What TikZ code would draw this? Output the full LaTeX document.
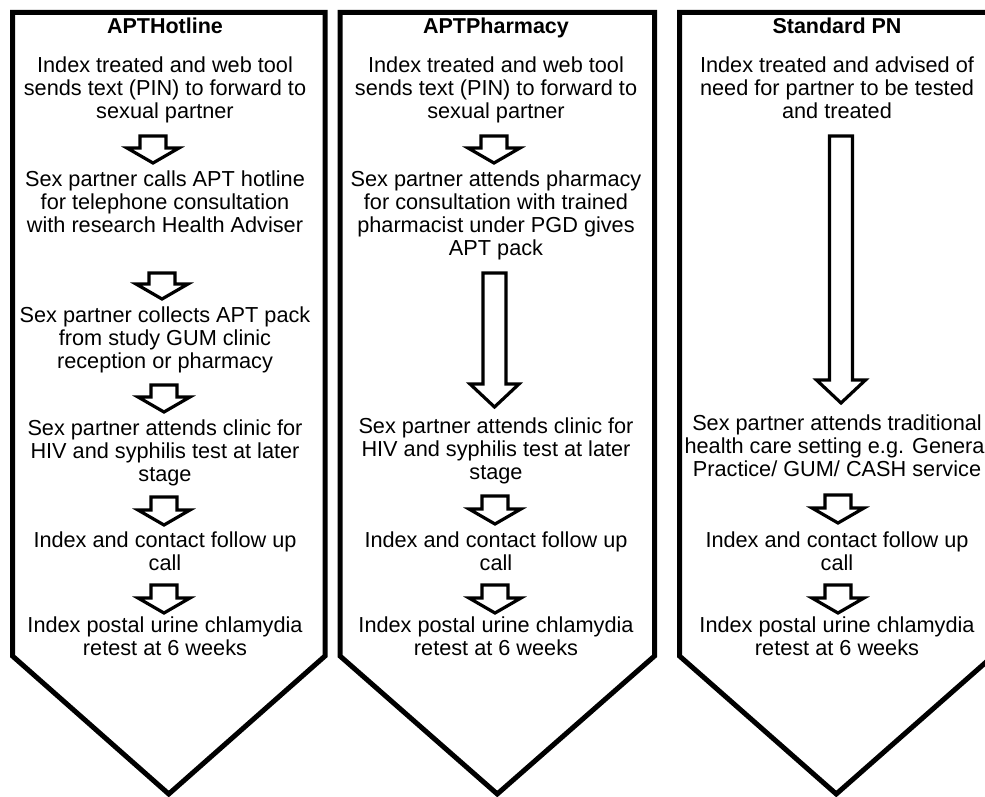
\documentclass[tikz,border=0pt]{standalone}
\usepackage{fontspec}
\setmainfont{Liberation Sans}
\usetikzlibrary{calc}

\tikzset{
  panel/.style={draw=black, line width=2.5pt, line join=miter},
  txt/.style={anchor=north, align=center, inner sep=0pt, font=\fontsize{10.85}{11.5}\selectfont},
  coltitle/.style={txt, font=\fontsize{10.75}{11.5}\selectfont\bfseries},
  blockarrow/.style n args={3}{draw=black, fill=white, line join=miter,
    to path={let \p1=(\tikztostart), \p2=(\tikztotarget) in
      (\x1-#1,\y1) -- (\x1+#1,\y1) -- (\x1+#1,\y2+#3) -- (\x1+#2,\y2+#3) --
      (\x1,\y2) -- (\x1-#2,\y2+#3) -- (\x1-#1,\y2+#3) -- cycle}},
  smallarrow/.style={blockarrow={6.5pt}{13pt}{7.5pt}, line width=1.6pt},
  longarrow/.style={blockarrow={5.75pt}{12.25pt}{11.5pt}, line width=1.6pt}
}

\begin{document}
\begin{tikzpicture}[x=0.5pt, y=-0.5pt]

\useasboundingbox (0,0) rectangle (985,797);

\foreach \l/\r in {12.5/325, 340/654.5, 679.5/993}
  \draw [panel] (\l,12.5) -- (\r,12.5) -- (\r,656) -- ({(\l+\r)/2},794) -- (\l,656) -- cycle;

% APT Hotline
\node [coltitle] (hotT) at (165,17.5) {APTHotline};
\node [txt] (hot1) at (165,56.5) {Index treated and web tool\\sends text (PIN) to forward to\\sexual partner};
\node [txt] (hot2) at (165,170.5) {Sex partner calls APT hotline\\for telephone consultation\\with research Health Adviser};
\node [txt] (hot3) at (165,306.5) {Sex partner collects APT pack\\from study GUM clinic\\reception or pharmacy};
\node [txt] (hot4) at (165,419.5) {Sex partner attends clinic for\\HIV and syphilis test at later\\stage};
\node [txt] (hot5) at (165,531.5) {Index and contact follow up\\call};
\node [txt] (hot6) at (165,616.5) {Index postal urine chlamydia\\retest at 6 weeks};

% APT Pharmacy
\node [coltitle] (phaT) at (496,17.5) {APTPharmacy};
\node [txt] (pha1) at (496,56.5) {Index treated and web tool\\sends text (PIN) to forward to\\sexual partner};
\node [txt] (pha2) at (496,170.5) {Sex partner attends pharmacy\\for consultation with trained\\pharmacist under PGD gives\\APT pack};
\node [txt] (pha3) at (496,417.5) {Sex partner attends clinic for\\HIV and syphilis test at later\\stage};
\node [txt] (pha4) at (496,531.5) {Index and contact follow up\\call};
\node [txt] (pha5) at (496,616.5) {Index postal urine chlamydia\\retest at 6 weeks};

% Standard PN
\node [coltitle] (stdT) at (837,17.5) {Standard PN};
\node [txt] (std1) at (837,56.5) {Index treated and advised of\\need for partner to be tested\\and treated};
\node [txt] (std2) at (837,414.5) {Sex partner attends traditional\\health care setting e.g. General\\Practice/ GUM/ CASH service};
\node [txt] (std3) at (837,531.5) {Index and contact follow up\\call};
\node [txt] (std4) at (837,616.5) {Index postal urine chlamydia\\retest at 6 weeks};

\foreach \nm/\px/\ya/\yb in {h1/153/136/163, h2/162/273/299, h3/164/385/412, h4/164/497/525, h5/164/585/613,
                             p1/494/136/163, p3/495/496/524, p4/495/585/613,
                             s2/838/495/523, s3/838/585/613} {
  \coordinate (\nm top) at (\px,\ya);
  \coordinate (\nm tip) at (\px,\yb);
}
\foreach \nm in {h1,h2,h3,h4,h5,p1,p3,p4,s2,s3}
  \draw [smallarrow] (\nm top) to (\nm tip);

\coordinate (p2top) at (494.5,273);
\coordinate (p2tip) at (494.5,407);
\draw [longarrow] (p2top) to (p2tip);

\coordinate (s1top) at (841,136);
\coordinate (s1tip) at (841,403);
\draw [longarrow] (s1top) to (s1tip);

\end{tikzpicture}
\end{document}
